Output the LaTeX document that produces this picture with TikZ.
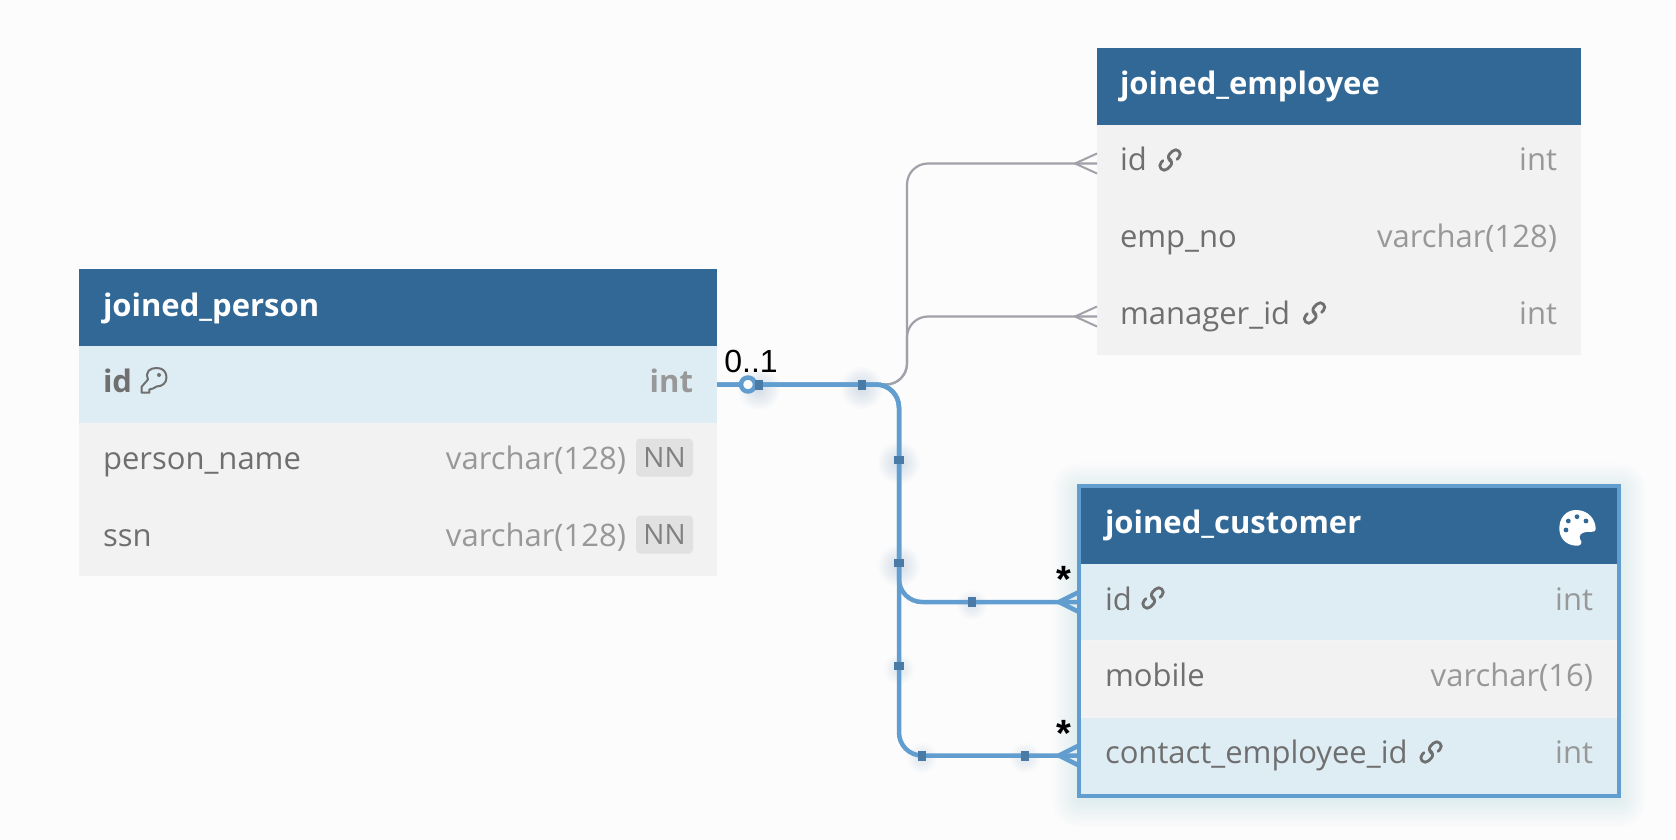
\documentclass[tikz,border=0pt]{standalone}
\usepackage{fontspec}
\setmainfont{Open Sans}
\newfontfamily\arialf{Liberation Sans}
\definecolor{bgc}{HTML}{FCFCFC}
\definecolor{headc}{HTML}{326896}
\definecolor{hic}{HTML}{DEEDF4}
\definecolor{rowc}{HTML}{F2F2F2}
\definecolor{sepc}{HTML}{F4F4F4}
\definecolor{namec}{HTML}{6F6F6F}
\definecolor{typec}{HTML}{989898}
\definecolor{badgec}{HTML}{E1E1E1}
\definecolor{badgetc}{HTML}{808080}
\definecolor{bluec}{HTML}{629DCF}
\definecolor{handlec}{HTML}{4A7BA6}
\definecolor{grayc}{HTML}{A1A1A9}
\definecolor{glowc}{HTML}{4A7C9C}
\tikzset{
  every node/.append style={outer sep=0pt},
  head/.style={fill=headc,draw=none,inner sep=0pt,anchor=north west,minimum height=#1},
  rowbox/.style={draw=none,inner sep=0pt,anchor=north west},
  title/.style={anchor=base west,inner sep=0pt,text=white,font=\fontsize{31}{31}\selectfont\bfseries},
  fname/.style={anchor=base west,inner sep=0pt,text=namec,font=\fontsize{31}{31}\selectfont},
  ftype/.style={anchor=base east,inner sep=0pt,text=typec,font=\fontsize{31}{31}\selectfont},
  badge/.style={anchor=center,fill=badgec,rounded corners=4pt,inner sep=0pt,minimum width=57pt,minimum height=38pt,text=badgetc,font=\fontsize{28}{28}\selectfont},
  fk/.style={draw=bluec,line width=4.5pt,rounded corners=23pt},
  gk/.style={draw=grayc,line width=2.2pt,rounded corners=21pt},
  hhandle/.style={fill=handlec,draw=none,inner sep=0pt,minimum width=7.5pt,minimum height=10pt},
  vhandle/.style={fill=handlec,draw=none,inner sep=0pt,minimum width=10pt,minimum height=7.5pt},
  card/.style={anchor=base,inner sep=0pt,text=black,font=\arialf\fontsize{32}{32}\selectfont},
  star/.style={anchor=base,inner sep=0pt,text=black,font=\arialf\fontsize{38}{38}\selectfont\bfseries},
  linkicon/.pic={
    \begin{scope}[rotate=45,draw=namec,line width=2.8pt,line cap=round,line join=round]
      \draw (-0.5,2.5) .. controls (-1,-1.5) and (1,-4.5) .. (4,-4.5) -- (8,-4.5) .. controls (14,-4.5) and (14,4.5) .. (8,4.5) -- (5.5,4.5);
      \draw (0.5,-2.5) .. controls (1,1.5) and (-1,4.5) .. (-4,4.5) -- (-8,4.5) .. controls (-14,4.5) and (-14,-4.5) .. (-8,-4.5) -- (-5.5,-4.5);
    \end{scope}}
}
\newcommand{\glowat}[3][24]{%
  \foreach \rr in {3,5,...,#1}{\fill[glowc,opacity=.02] (#2,#3) circle[radius=\rr pt];}}
\begin{document}
\begin{tikzpicture}[x=1pt,y=-1pt]
\useasboundingbox (0,0) rectangle (1676,840);
\fill[bgc] (0,0) rectangle (1676,840);

% glows
\foreach \gg in {1,3,...,27}{
  \fill[glowc,opacity=.008,rounded corners=\gg pt] (1079-\gg,486-\gg+4) rectangle (1619+\gg,796+\gg+4);}
\glowat[22]{759}{389}
\glowat[22]{862}{388}
\glowat[22]{899}{463}
\glowat[22]{899}{566}
\glowat[16]{899}{669}
\glowat[16]{972}{605}
\glowat[16]{922}{758}
\glowat[16]{1025}{758}

% joined_person
\node[head=77pt,minimum width=638pt] (ph) at (79,269) {};
\node[rowbox,fill=hic,minimum width=638pt,minimum height=77pt] (p_id) at (79,346) {};
\node[rowbox,fill=rowc,minimum width=638pt,minimum height=77pt] (p_name) at (79,423) {};
\node[rowbox,fill=rowc,minimum width=638pt,minimum height=76pt] (p_ssn) at (79,500) {};
\draw[sepc,line width=1pt] (p_ssn.north west) -- (p_ssn.north east);
\node[title] (pt) at (103,316) {joined\_person};
\node[fname,font=\fontsize{31}{31}\selectfont\bfseries] (pf1) at (103,392) {id};
\node[ftype,font=\fontsize{31}{31}\selectfont\bfseries] (pt1) at (693,392) {int};
\node[fname] (pf2) at (103,469) {person\_name};
\node[ftype] (pt2) at (626,469) {varchar(128)};
\node[badge] (pb2) at (664.5,457.5) {NN};
\node[fname] (pf3) at (103,546) {ssn};
\node[ftype] (pt3) at (626,546) {varchar(128)};
\node[badge] (pb3) at (664.5,534.5) {NN};
% key icon
\draw[namec,line width=2pt,line join=round] (141.7,386.7) -- (148,379.5) .. controls (145,371) and (150,368) .. (157,368) .. controls (163,368) and (166.5,372) .. (166.5,377.5) .. controls (166.5,383) and (162,386.5) .. (156.7,386.5) -- (153,388.5) -- (149.3,389.5) -- (149.3,392.7) -- (141.7,392.7) -- cycle;
\fill[namec] (159,375) circle[radius=2pt];

% joined_employee
\node[head=77pt,minimum width=484pt] (eh) at (1097,48) {};
\node[rowbox,fill=rowc,minimum width=484pt,minimum height=77pt] (e_id) at (1097,125) {};
\node[rowbox,fill=rowc,minimum width=484pt,minimum height=76pt] (e_no) at (1097,202) {};
\node[rowbox,fill=rowc,minimum width=484pt,minimum height=77pt] (e_mgr) at (1097,278) {};
\draw[sepc,line width=1pt] (e_mgr.north west) -- (e_mgr.north east);
\node[title] (et) at (1120,95) {joined\_employee};
\node[fname] (ef1) at (1120,171) {id};
\node[ftype] (ey1) at (1557,171) {int};
\node[fname] (ef2) at (1120,247) {emp\_no};
\node[ftype] (ey2) at (1557,247) {varchar(128)};
\node[fname] (ef3) at (1120,324) {manager\_id};
\node[ftype] (ey3) at (1557,324) {int};
\pic at (1170,160) {linkicon};
\pic at (1314.5,313) {linkicon};

% joined_customer
\node[head=78pt,minimum width=540pt] (ch) at (1079,486) {};
\node[rowbox,fill=hic,minimum width=540pt,minimum height=76pt] (c_id) at (1079,564) {};
\node[rowbox,fill=rowc,minimum width=540pt,minimum height=77pt] (c_mob) at (1079,640) {};
\node[rowbox,fill=hic,minimum width=540pt,minimum height=77pt] (c_emp) at (1079,717) {};
\draw[sepc,line width=1pt] (c_mob.north west) -- (c_mob.north east);
\draw[sepc,line width=1pt] (c_emp.north west) -- (c_emp.north east);
\node[draw=bluec,line width=4pt,inner sep=0pt,anchor=north west,minimum width=540pt,minimum height=310pt] (cframe) at (1079,486) {};
\node[title] (ct) at (1105,533) {joined\_customer};
\node[fname] (cf1) at (1105,610) {id};
\node[ftype] (cy1) at (1593,610) {int};
\node[fname] (cf2) at (1105,686) {mobile};
\node[ftype] (cy2) at (1593,686) {varchar(16)};
\node[fname] (cf3) at (1105,763) {contact\_employee\_id};
\node[ftype] (cy3) at (1593,763) {int};
\pic at (1153,598) {linkicon};
\pic at (1431,752) {linkicon};
% palette
\fill[white] (1576,510) .. controls (1588,510) and (1595.7,519) .. (1595.7,529.3) .. controls (1595.7,531) and (1594,531.7) .. (1593,531.7) -- (1586,532) .. controls (1581,532.5) and (1578.5,536) .. (1580,539) .. controls (1581.5,541) and (1582,543) .. (1581,544) .. controls (1580,545.5) and (1578.5,545.7) .. (1577,545.7) .. controls (1566,545.7) and (1559.3,538) .. (1559.3,528.3) .. controls (1559.3,518) and (1566,510) .. (1576,510) -- cycle;
\foreach \dx/\dy in {1577/516.7,1568.3/521,1586/521,1566/530}{\fill[headc] (\dx,\dy) circle[radius=2.4pt];}

% coordinates of the routes
\coordinate (gbus) at (907,0);
\coordinate (bbus) at (899,0);

% grey connectors
\draw[gk] (p_id.east) -| (gbus |- e_id.west) -- (e_id.west);
\draw[gk] (p_id.east) -| (gbus |- e_mgr.west) -- (e_mgr.west);
\foreach \rw in {e_id,e_mgr}{
  \draw[grayc,line width=2pt] ([xshift=-22pt]\rw.west) -- ([yshift=-10pt]\rw.west);
  \draw[grayc,line width=2pt] ([xshift=-22pt]\rw.west) -- ([yshift=10pt]\rw.west);
}

% blue connectors
\draw[fk] (p_id.east) -| (bbus |- c_id.west) -- (c_id.west);
\draw[fk] (p_id.east) -| (bbus |- c_emp.west) -- (c_emp.west);
\foreach \rw in {c_id,c_emp}{
  \draw[bluec,line width=4.5pt] ([xshift=-20pt]\rw.west) -- ([yshift=-10pt]\rw.west);
  \draw[bluec,line width=4.5pt] ([xshift=-20pt]\rw.west) -- ([yshift=10pt]\rw.west);
}
\node[draw=bluec,fill=bgc,line width=4.5pt,circle,inner sep=0pt,minimum size=14pt] (opt) at (748,384.5) {};
\node[hhandle] (h1) at (759,384.5) {};
\node[hhandle] (h2) at (862,384.5) {};
\node[vhandle] (h3) at (899,460) {};
\node[vhandle] (h4) at (899,563) {};
\node[vhandle] (h5) at (899,666) {};
\node[hhandle] (h6) at (972,602) {};
\node[hhandle] (h7) at (922,755.5) {};
\node[hhandle] (h8) at (1025,755.5) {};

% cardinalities
\node[card] (l1) at (751,372) {0..1};
\node[star] (l2) at (1064,592) {*};
\node[star] (l3) at (1064,746) {*};
\end{tikzpicture}
\end{document}
